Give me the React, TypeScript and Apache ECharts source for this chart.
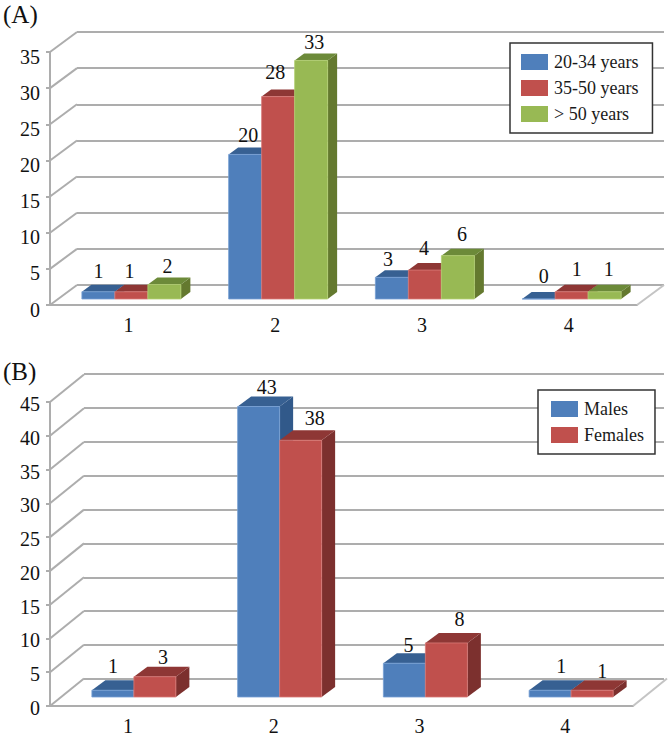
import React, { useEffect, useRef } from "react";
import * as echarts from "echarts";

const categories = ["1", "2", "3", "4"];
const ticksA = [0, 5, 10, 15, 20, 25, 30, 35];
const ticksB = [0, 5, 10, 15, 20, 25, 30, 35, 40, 45];

const age20to34 = [1, 20, 3, 0];
const age35to50 = [1, 28, 4, 1];
const ageOver50 = [2, 33, 6, 1];
const males = [1, 43, 5, 1];
const females = [3, 38, 8, 1];

const FONT = '"Liberation Serif", "Times New Roman", serif';
const GRID_COLOR = "#adadad";
const BLUE = { front: "#4f7fbb", top: "#376092", side: "#31598a", edge: "#76a0d4" };
const RED = { front: "#c0504d", top: "#8e3735", side: "#7c302e", edge: "#d87a77" };
const GREEN = { front: "#98b954", top: "#6c8a39", side: "#64792f", edge: "#b2cf72" };

// per-label [dx, dy] nudges away from the default label anchor
const nudgesA = [
  [[0, 0], [-2, 0], [3, 2]],
  [[3, 2], [-3, -4], [3, 3]],
  [[-4, 3], [-1, -1], [4, -1]],
  [[5, -2], [5, -2], [4, -2]],
];
const nudgesB = [
  [[0, -3], [8, 1]],
  [[8, 1], [14, -1]],
  [[4, 3], [13, -3]],
  [[11, -3], [10, 2]],
];

type Panel = {
  gridIndex: number;
  liftX: number;
  liftY: number;
  barWidth: number;
  barDepthX: number;
  barDepthY: number;
  depthX: number;
  depthY: number;
  nudges: number[][][];
};

const panelA: Panel = { gridIndex: 0, liftX: 8, liftY: 6, barWidth: 33, barDepthX: 9.5, barDepthY: 7, depthX: 27, depthY: 20, nudges: nudgesA };
const panelB: Panel = { gridIndex: 2, liftX: 11, liftY: 9, barWidth: 42, barDepthX: 13.5, barDepthY: 10, depthX: 34, depthY: 27.5, nudges: nudgesB };

function wallSeries(panel: Panel, ticks: number[]) {
  return {
    type: "custom",
    xAxisIndex: panel.gridIndex,
    yAxisIndex: panel.gridIndex,
    silent: true,
    z: 1,
    data: ticks.map((t) => [0, t]),
    encode: { x: 0, y: 1 },
    renderItem: (_p: any, api: any) => {
      const band = api.size([1, 0])[0];
      const pt = api.coord([0, api.value(1)]);
      const x = pt[0] - band / 2;
      const y = pt[1];
      const children: any[] = [
        {
          type: "line",
          shape: { x1: x, y1: y, x2: x + panel.depthX, y2: y - panel.depthY },
          style: { stroke: GRID_COLOR, lineWidth: 2 },
        },
      ];
      if (api.value(1) === 0) {
        const right = x + band * categories.length;
        children.push({
          type: "line",
          shape: { x1: right, y1: y, x2: right + panel.depthX, y2: y - panel.depthY },
          style: { stroke: "#c4c4c4", lineWidth: 2 },
        });
      }
      return { type: "group", children };
    },
  };
}

function barSeries(panel: Panel, name: string, values: number[], idx: number, count: number, c: typeof BLUE) {
  return {
    type: "custom",
    name,
    xAxisIndex: panel.gridIndex,
    yAxisIndex: panel.gridIndex,
    silent: true,
    z: 3,
    itemStyle: { color: c.front },
    data: values.map((v, i) => [i, v]),
    encode: { x: 0, y: 1 },
    renderItem: (_p: any, api: any) => {
      const i = api.value(0);
      const v = api.value(1);
      const base = api.coord([i, 0]);
      const top = api.coord([i, v]);
      const w = panel.barWidth;
      const x0 = base[0] + panel.liftX + (idx - count / 2) * w;
      const x1 = x0 + w;
      const yb = base[1] - panel.liftY;
      const yt = top[1] - panel.liftY;
      const dx = panel.barDepthX;
      const dy = panel.barDepthY;
      const n = panel.nudges[i][idx];
      return {
        type: "group",
        children: [
          {
            type: "polygon",
            shape: { points: [[x1, yb], [x1 + dx, yb - dy], [x1 + dx, yt - dy], [x1, yt]] },
            style: { fill: c.side },
          },
          {
            type: "polygon",
            shape: { points: [[x0, yt], [x0 + dx, yt - dy], [x1 + dx, yt - dy], [x1, yt]] },
            style: { fill: c.top },
          },
          {
            type: "rect",
            shape: { x: x0, y: yt, width: w, height: yb - yt },
            style: { fill: c.front, stroke: c.edge, lineWidth: 0.8 },
          },
          {
            type: "text",
            z2: 100,
            style: {
              text: String(v),
              x: (x0 + x1) / 2 + n[0],
              y: yt - 21 + n[1],
              fill: "#111",
              font: `20px ${FONT}`,
              textAlign: "center",
              textVerticalAlign: "middle",
            },
          },
        ],
      };
    },
  };
}

function frontAxes(gridIndex: number, max: number, yLine: number) {
  return {
    x: {
      type: "category",
      gridIndex,
      data: categories,
      axisLine: { show: true, lineStyle: { color: GRID_COLOR, width: 2 } },
      axisTick: { show: false },
      axisLabel: { margin: 10, fontFamily: FONT, fontSize: 20, color: "#111", padding: [0, 0, 0, 10], interval: 0 },
    },
    y: {
      type: "value",
      gridIndex,
      min: 0,
      max,
      interval: 5,
      splitLine: { show: false },
      axisLine: { show: true, lineStyle: { color: GRID_COLOR, width: 2 } },
      axisTick: { show: true, length: 4, lineStyle: { color: GRID_COLOR, width: 2 } },
      axisLabel: { margin: 10, fontFamily: FONT, fontSize: 20, color: "#111", verticalAlign: "top", lineHeight: yLine },
    },
  };
}

function backAxes(gridIndex: number, max: number) {
  return {
    x: { type: "category", gridIndex, data: categories, show: false },
    y: {
      type: "value",
      gridIndex,
      min: 0,
      max,
      interval: 5,
      axisLine: { show: false },
      axisTick: { show: false },
      axisLabel: { show: false },
      splitLine: { show: true, lineStyle: { color: GRID_COLOR, width: 2 } },
    },
  };
}

function legendOf(names: string[], left: number, top: number, padding: number[]) {
  return {
    data: names,
    orient: "vertical",
    left,
    top,
    padding,
    icon: "rect",
    itemWidth: 27,
    itemHeight: 16,
    itemGap: 8,
    selectedMode: false,
    backgroundColor: "#fff",
    borderColor: "#333",
    borderWidth: 1.5,
    borderRadius: 0,
    z: 10,
    textStyle: { fontFamily: FONT, fontSize: 18, color: "#1a1a1a", padding: [0, 0, 0, 1] },
  };
}

export default function App() {
  const ref = useRef<HTMLDivElement>(null);
  useEffect(() => {
    const chart = echarts.init(ref.current!, undefined, { renderer: "svg" });
    const fa = frontAxes(0, 35, 9);
    const ba = backAxes(1, 35);
    const fb = frontAxes(2, 45, 4);
    const bb = backAxes(3, 45);
    chart.setOption({
      animation: false,
      backgroundColor: "#fff",
      title: [
        { text: "(A)", left: 3, top: 2, padding: 0, textStyle: { fontFamily: FONT, fontSize: 25, fontWeight: "normal", color: "#111" } },
        { text: "(B)", left: 3, top: 359, padding: 0, textStyle: { fontFamily: FONT, fontSize: 25, fontWeight: "normal", color: "#111" } },
      ],
      grid: [
        { left: 50, top: 52, width: 587, height: 253 },
        { left: 77, top: 32, width: 587, height: 253 },
        { left: 50, top: 402, width: 583, height: 304 },
        { left: 84, top: 374, width: 580, height: 305 },
      ],
      xAxis: [fa.x, ba.x, fb.x, bb.x],
      yAxis: [fa.y, ba.y, fb.y, bb.y],
      legend: [
        legendOf(["20-34 years", "35-50 years", "> 50 years"], 510, 43, [10, 14, 10, 11]),
        legendOf(["Males", "Females"], 538, 390, [10, 11, 10, 13]),
      ],
      series: [
        wallSeries(panelA, ticksA),
        barSeries(panelA, "20-34 years", age20to34, 0, 3, BLUE),
        barSeries(panelA, "35-50 years", age35to50, 1, 3, RED),
        barSeries(panelA, "> 50 years", ageOver50, 2, 3, GREEN),
        wallSeries(panelB, ticksB),
        barSeries(panelB, "Males", males, 0, 2, BLUE),
        barSeries(panelB, "Females", females, 1, 2, RED),
      ],
    });
    return () => chart.dispose();
  }, []);
  return <div ref={ref} style={{ position: "absolute", left: 0, top: 0, width: 672, height: 736 }} />;
}
